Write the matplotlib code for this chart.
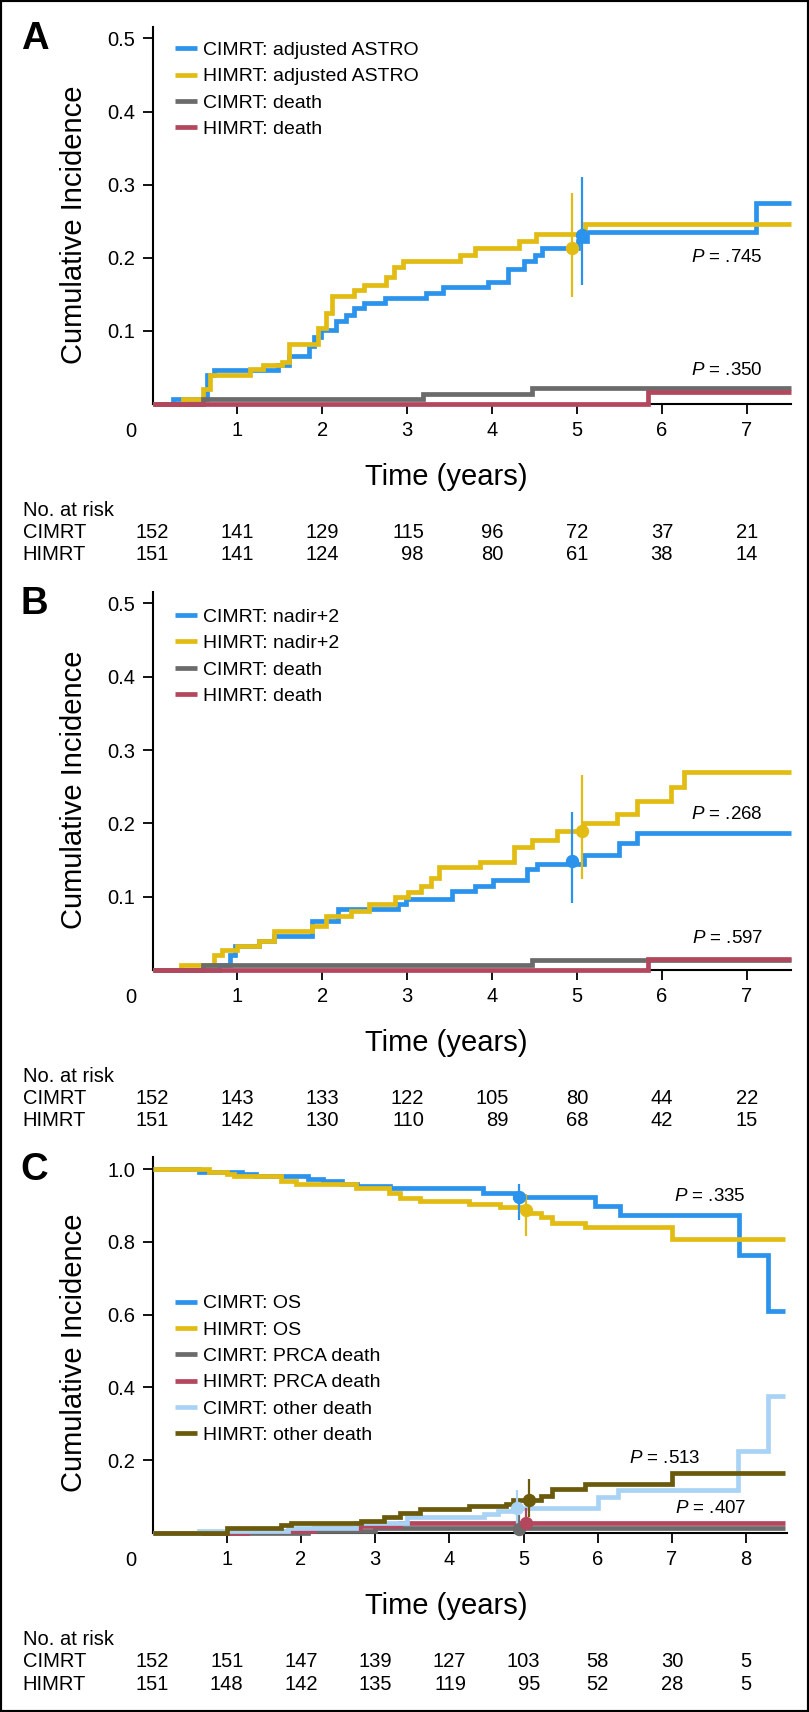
import matplotlib
matplotlib.use('Agg')
import matplotlib.pyplot as plt
from matplotlib import transforms
from matplotlib.lines import Line2D
import matplotlib.patches as patches

plt.rcParams['font.family'] = ['Liberation Sans', 'DejaVu Sans']
plt.rcParams['mathtext.fontset'] = 'custom'
plt.rcParams['mathtext.rm'] = 'Liberation Sans'
plt.rcParams['mathtext.it'] = 'Liberation Sans:italic'

# ---------------- data ----------------
# Panel A
A_cimrt_astro_t = [0, 0.24, 0.64, 0.72, 1.48, 1.61, 1.84, 1.90, 1.98, 2.16, 2.28, 2.37, 2.49, 2.74, 3.22, 3.42, 3.95, 4.19, 4.38, 4.50, 4.59, 5.01, 5.12, 7.11, 7.52]
A_cimrt_astro_v = [0, 0.0066, 0.040, 0.046, 0.053, 0.066, 0.080, 0.092, 0.101, 0.113, 0.122, 0.131, 0.138, 0.145, 0.152, 0.160, 0.167, 0.185, 0.195, 0.204, 0.213, 0.223, 0.235, 0.275, 0.275]
A_himrt_astro_t = [0, 0.36, 0.60, 0.68, 1.15, 1.30, 1.52, 1.61, 1.95, 2.04, 2.12, 2.37, 2.49, 2.75, 2.85, 2.95, 3.62, 3.80, 4.32, 4.52, 5.09, 7.52]
A_himrt_astro_v = [0, 0.0066, 0.020, 0.040, 0.048, 0.053, 0.058, 0.082, 0.104, 0.124, 0.148, 0.156, 0.163, 0.174, 0.188, 0.195, 0.204, 0.213, 0.223, 0.233, 0.246, 0.246]
A_cimrt_death_t = [0, 0.60, 3.19, 4.47, 7.52]
A_cimrt_death_v = [0, 0.0066, 0.0132, 0.0215, 0.0215]
A_himrt_death_t = [0, 5.84, 7.52]
A_himrt_death_v = [0, 0.017, 0.017]
A_mark_x = [5.06, 4.94]
A_mark_y = [0.231, 0.213]
A_ci_lo = [0.163, 0.147]
A_ci_hi = [0.310, 0.289]
A_labels = ['CIMRT: adjusted ASTRO', 'HIMRT: adjusted ASTRO', 'CIMRT: death', 'HIMRT: death']
A_pvals = ['.745', '.350']
A_risk_times = [0, 1, 2, 3, 4, 5, 6, 7]
A_risk_cimrt = [152, 141, 129, 115, 96, 72, 37, 21]
A_risk_himrt = [151, 141, 124, 98, 80, 61, 38, 14]

# Panel B
B_cimrt_nadir_t = [0, 0.78, 0.91, 0.97, 1.25, 1.43, 1.88, 2.19, 2.89, 2.99, 3.53, 3.80, 4.01, 4.41, 4.53, 5.08, 5.50, 5.71, 7.52]
B_cimrt_nadir_v = [0, 0.0066, 0.020, 0.033, 0.040, 0.047, 0.067, 0.083, 0.090, 0.097, 0.108, 0.115, 0.123, 0.138, 0.145, 0.157, 0.173, 0.187, 0.187]
B_himrt_nadir_t = [0, 0.33, 0.73, 0.82, 0.99, 1.25, 1.43, 1.88, 2.04, 2.34, 2.55, 2.86, 3.01, 3.16, 3.28, 3.37, 3.86, 4.26, 4.47, 4.77, 5.08, 5.47, 5.71, 6.11, 6.26, 7.52]
B_himrt_nadir_v = [0, 0.0066, 0.020, 0.027, 0.033, 0.040, 0.053, 0.060, 0.073, 0.080, 0.090, 0.100, 0.107, 0.115, 0.125, 0.140, 0.147, 0.168, 0.178, 0.190, 0.200, 0.213, 0.230, 0.250, 0.270, 0.270]
B_cimrt_death_t = [0, 0.60, 4.47, 7.52]
B_cimrt_death_v = [0, 0.0066, 0.0135, 0.0135]
B_himrt_death_t = [0, 5.84, 7.52]
B_himrt_death_v = [0, 0.0145, 0.0145]
B_mark_x = [4.94, 5.06]
B_mark_y = [0.148, 0.190]
B_ci_lo = [0.092, 0.124]
B_ci_hi = [0.215, 0.266]
B_labels = ['CIMRT: nadir+2', 'HIMRT: nadir+2', 'CIMRT: death', 'HIMRT: death']
B_pvals = ['.268', '.597']
B_risk_times = [0, 1, 2, 3, 4, 5, 6, 7]
B_risk_cimrt = [152, 143, 133, 122, 105, 80, 44, 22]
B_risk_himrt = [151, 142, 130, 110, 89, 68, 42, 15]

# Panel C
C_cimrt_os_t = [0, 0.62, 1.20, 1.40, 2.10, 2.30, 2.55, 2.75, 3.20, 4.46, 4.89, 5.96, 6.30, 7.90, 8.30, 8.53]
C_cimrt_os_v = [1.0, 0.993, 0.987, 0.980, 0.973, 0.967, 0.960, 0.953, 0.947, 0.935, 0.922, 0.898, 0.873, 0.763, 0.610, 0.610]
C_himrt_os_t = [0, 0.76, 1.00, 1.10, 1.73, 1.94, 2.74, 3.19, 3.33, 3.60, 4.26, 4.68, 4.96, 5.06, 5.24, 5.38, 5.83, 7.00, 8.53]
C_himrt_os_v = [1.0, 0.993, 0.987, 0.980, 0.967, 0.960, 0.947, 0.935, 0.920, 0.913, 0.905, 0.897, 0.887, 0.880, 0.867, 0.853, 0.840, 0.809, 0.809]
C_cimrt_prca_t = [0, 2.10, 3.00, 8.53]
C_cimrt_prca_v = [0, 0.0066, 0.0137, 0.0137]
C_himrt_prca_t = [0, 1.28, 2.18, 2.80, 3.33, 8.53]
C_himrt_prca_v = [0, 0.0066, 0.013, 0.020, 0.027, 0.027]
C_cimrt_other_t = [0, 0.62, 1.83, 2.74, 3.43, 4.47, 4.65, 4.89, 6.00, 6.28, 7.89, 8.29, 8.53]
C_cimrt_other_v = [0, 0.0066, 0.013, 0.027, 0.044, 0.053, 0.060, 0.070, 0.099, 0.117, 0.225, 0.376, 0.376]
C_himrt_other_t = [0, 1.00, 1.73, 1.87, 2.81, 3.12, 3.33, 3.61, 4.27, 4.76, 4.86, 5.24, 5.38, 5.83, 7.00, 8.53]
C_himrt_other_v = [0, 0.0147, 0.021, 0.027, 0.034, 0.044, 0.055, 0.067, 0.073, 0.081, 0.092, 0.103, 0.122, 0.134, 0.165, 0.165]
C_mark_x = [4.94, 5.04, 4.94, 5.04, 4.91, 5.08]
C_mark_y = [0.922, 0.887, 0.010, 0.027, 0.070, 0.092]
C_ci_lo = [0.860, 0.816, 0.0, 0.007, 0.007, 0.044]
C_ci_hi = [0.959, 0.931, 0.050, 0.070, 0.119, 0.147]
C_labels = ['CIMRT: OS', 'HIMRT: OS', 'CIMRT: PRCA death', 'HIMRT: PRCA death',
            'CIMRT: other death', 'HIMRT: other death']
C_pvals = ['.335', '.513', '.407']
C_risk_times = [0, 1, 2, 3, 4, 5, 6, 7, 8]
C_risk_cimrt = [152, 151, 147, 139, 127, 103, 58, 30, 5]
C_risk_himrt = [151, 148, 142, 135, 119, 95, 52, 28, 5]

# ---------------- style ----------------
BLUE = '#2B93EC'
GOLD = '#E3BC13'
GRAY = '#6B6B6B'
RED = '#B3475D'
LBLUE = '#A9D3F5'
OLIVE = '#6B5A0C'

W, H = 809, 1712
fig = plt.figure(figsize=(W / 100, H / 100), dpi=100)


def fx(px):
    return px / W


def fy(px):
    return 1 - px / H


LW = 3.4
TICK_FS = 14.5
LEG_FS = 14
LAB_FS = 21


def setup_axes(base_px, top_px, xmax, ymax, per_year, yticks, ytl, nx):
    ax = fig.add_axes([fx(152.5), fy(base_px), xmax * per_year / W, (base_px - top_px) / H])
    ax.set_xlim(0, xmax)
    ax.set_ylim(0, ymax)
    for s in ('top', 'right'):
        ax.spines[s].set_visible(False)
    for s in ('left', 'bottom'):
        ax.spines[s].set_linewidth(1.5)
    ax.tick_params(direction='out', length=7.2, width=1.3, labelsize=TICK_FS, pad=5)
    ax.set_xticks(range(1, nx + 1))
    ax.set_xticklabels([str(i) for i in range(1, nx + 1)])
    ax.set_yticks(yticks)
    ax.set_yticklabels(ytl)
    ax.annotate('0', xy=(0, 0), xycoords=('data', 'axes fraction'), xytext=(-15.8, -12.7),
                textcoords='offset points', ha='center', va='top', fontsize=TICK_FS,
                annotation_clip=False)
    return ax


def draw_curves(ax, curves, colors):
    for (t, v), c in zip(curves, colors):
        ax.step(t, v, where='post', color=c, lw=LW, solid_joinstyle='miter',
                solid_capstyle='butt', clip_on=False, zorder=3)


def draw_marks(ax, xs, ys, lo, hi, colors):
    for x, y, l, h, c in zip(xs, ys, lo, hi, colors):
        ax.vlines(x, l, h, color=c, lw=1.6, zorder=4, clip_on=False)
        ax.plot([x], [y], 'o', ms=8.6, color=c, mec=c, zorder=5, clip_on=False)


def draw_legend(ax, labels, colors, top_px):
    handles = [Line2D([0], [0], color=c, lw=LW, solid_capstyle='butt') for c in colors]
    ax.legend(handles, labels, loc='upper left', bbox_to_anchor=(fx(175), fy(top_px)),
              bbox_transform=fig.transFigure, frameon=False, fontsize=LEG_FS,
              handlelength=1.15, handletextpad=0.31, labelspacing=0.45,
              borderpad=0, borderaxespad=0)


def risk_table(ax, times, cvals, hvals, base_px):
    fig.text(fx(446.7), fy(base_px + 81), 'Time (years)', ha='center', va='baseline', fontsize=LAB_FS)
    fig.text(fx(22.7), fy(base_px + 112), 'No. at risk', ha='left', va='baseline', fontsize=TICK_FS)
    fig.text(fx(22.7), fy(base_px + 134), 'CIMRT', ha='left', va='baseline', fontsize=TICK_FS)
    fig.text(fx(22.7), fy(base_px + 156.5), 'HIMRT', ha='left', va='baseline', fontsize=TICK_FS)
    trans = transforms.blended_transform_factory(ax.transData, fig.transFigure)
    for t, c, h in zip(times, cvals, hvals):
        nd = max(len(str(c)), len(str(h)))
        off = nd * 0.556 * TICK_FS / 2
        for val, ypx in ((c, base_px + 134), (h, base_px + 156.5)):
            ax.annotate(str(val), xy=(t, fy(ypx)), xycoords=trans, xytext=(off, 0),
                        textcoords='offset points', ha='right', va='baseline',
                        fontsize=TICK_FS, annotation_clip=False)


def ylabel(center_px):
    fig.text(fx(74.4), fy(center_px), 'Cumulative Incidence', rotation=90,
             ha='center', va='center', fontsize=LAB_FS)


def pval(ax, x, y, s):
    ax.text(x, y, '$P$ = ' + s, ha='right', va='baseline', fontsize=13.5)


# ---------------- Panel A ----------------
cols4 = [BLUE, GOLD, GRAY, RED]
axA = setup_axes(404, 26.7, 7.52, 0.516, 84.9, [0.1, 0.2, 0.3, 0.4, 0.5],
                 ['0.1', '0.2', '0.3', '0.4', '0.5'], 7)
draw_curves(axA, [(A_cimrt_astro_t, A_cimrt_astro_v), (A_himrt_astro_t, A_himrt_astro_v),
                  (A_cimrt_death_t, A_cimrt_death_v), (A_himrt_death_t, A_himrt_death_v)], cols4)
draw_marks(axA, A_mark_x, A_mark_y, A_ci_lo, A_ci_hi, [BLUE, GOLD])
draw_legend(axA, A_labels, cols4, 41.5)
pval(axA, 7.19, 0.194, A_pvals[0])
pval(axA, 7.19, 0.040, A_pvals[1])
risk_table(axA, A_risk_times, A_risk_cimrt, A_risk_himrt, 404)
ylabel(225)
fig.text(fx(20.7), fy(49.3), 'A', fontsize=27.5, fontweight='bold', ha='left', va='baseline')

# ---------------- Panel B ----------------
axB = setup_axes(970, 591.7, 7.52, 0.516, 84.9, [0.1, 0.2, 0.3, 0.4, 0.5],
                 ['0.1', '0.2', '0.3', '0.4', '0.5'], 7)
draw_curves(axB, [(B_cimrt_nadir_t, B_cimrt_nadir_v), (B_himrt_nadir_t, B_himrt_nadir_v),
                  (B_cimrt_death_t, B_cimrt_death_v), (B_himrt_death_t, B_himrt_death_v)], cols4)
draw_marks(axB, B_mark_x, B_mark_y, B_ci_lo, B_ci_hi, [BLUE, GOLD])
draw_legend(axB, B_labels, cols4, 608.2)
pval(axB, 7.19, 0.2055, B_pvals[0])
pval(axB, 7.19, 0.0363, B_pvals[1])
risk_table(axB, B_risk_times, B_risk_cimrt, B_risk_himrt, 970)
ylabel(790)
fig.text(fx(20.7), fy(614.3), 'B', fontsize=27.5, fontweight='bold', ha='left', va='baseline')

# ---------------- Panel C ----------------
cols6 = [BLUE, GOLD, GRAY, RED, LBLUE, OLIVE]
axC = setup_axes(1533, 1157, 8.55, 1.033, 74.2, [0.2, 0.4, 0.6, 0.8, 1.0],
                 ['0.2', '0.4', '0.6', '0.8', '1.0'], 8)
draw_curves(axC, [(C_cimrt_os_t, C_cimrt_os_v), (C_himrt_os_t, C_himrt_os_v),
                  (C_cimrt_prca_t, C_cimrt_prca_v), (C_himrt_prca_t, C_himrt_prca_v),
                  (C_cimrt_other_t, C_cimrt_other_v), (C_himrt_other_t, C_himrt_other_v)], cols6)
draw_marks(axC, C_mark_x, C_mark_y, C_ci_lo, C_ci_hi, cols6)
draw_legend(axC, C_labels, cols6, 1294.8)
pval(axC, 8.0, 0.911, C_pvals[0])
pval(axC, 7.39, 0.191, C_pvals[1])
pval(axC, 8.0, 0.056, C_pvals[2])
risk_table(axC, C_risk_times, C_risk_cimrt, C_risk_himrt, 1533)
ylabel(1352.5)
fig.text(fx(20.7), fy(1179.6), 'C', fontsize=27.5, fontweight='bold', ha='left', va='baseline')

# figure frame
fig.patches.append(patches.Rectangle((0, 0), 1, 1, transform=fig.transFigure, fill=False,
                                     ec='black', lw=3, zorder=10))

fig.savefig('out.png', dpi=100)
